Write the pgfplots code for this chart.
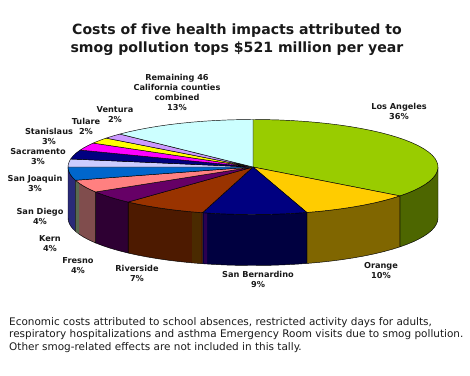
\documentclass[border=0pt]{standalone}
\usepackage{pgfplots}
\pgfplotsset{compat=1.18}
\usepackage{fontspec}
\setmainfont{DejaVu Sans}[Ligatures=CommonOff]
\definecolor{cLA}{HTML}{99CC00}\definecolor{sLA}{HTML}{4D6600}
\definecolor{cOR}{HTML}{FFCC00}\definecolor{sOR}{HTML}{806600}
\definecolor{cSB}{HTML}{000080}\definecolor{sSB}{HTML}{000040}
\definecolor{cRI}{HTML}{993300}\definecolor{sRI}{HTML}{4D1A00}
\definecolor{cFR}{HTML}{660066}\definecolor{sFR}{HTML}{2E0033}
\definecolor{cKE}{HTML}{FF8080}\definecolor{sKE}{HTML}{804D4D}
\definecolor{cSD}{HTML}{0066CC}\definecolor{sSD}{HTML}{2A2A78}
\definecolor{cSJ}{HTML}{CCCCFF}\definecolor{sSJ}{HTML}{666680}
\definecolor{cSA}{HTML}{000080}\definecolor{sSA}{HTML}{000040}
\definecolor{cST}{HTML}{FF00FF}\definecolor{sST}{HTML}{800080}
\definecolor{cTU}{HTML}{FFFF00}\definecolor{sTU}{HTML}{808000}
\definecolor{cVE}{HTML}{CC99FF}\definecolor{sVE}{HTML}{664D80}
\definecolor{cRE}{HTML}{CCFFFF}\definecolor{sRE}{HTML}{668080}
\definecolor{bOL}{HTML}{4A2A00}\definecolor{bPU}{HTML}{2A0050}\definecolor{bGR}{HTML}{5A6A50}
\def\cx{253}\def\cy{167}\def\rx{185}\def\ry{47.5}\def\dep{51}
% append arc (degrees clockwise from 12 o'clock) to \pts
\newcommand\arcpts[3]{%
  \pgfmathtruncatemacro\nsteps{max(2,ceil(abs(#2-#1)/4))}%
  \foreach \i in {0,...,\nsteps}{%
    \pgfmathsetmacro\th{#1+(#2-#1)*\i/\nsteps}%
    \pgfmathsetmacro\px{\cx+\rx*sin(\th)}%
    \pgfmathsetmacro\py{\cy-\ry*cos(\th)+#3}%
    \xdef\pts{\pts (\px,\py)}%
  }}
\gdef\tops{}\gdef\sides{}
\gdef\cum{0}
% share (%) of each slice
\foreach \v/\k in {35.4/LA,9.9/OR,9.1/SB,7.4/RI,4.4/FR,4.3/KE,4.5/SD,2.7/SJ,3.1/SA,2.6/ST,2.0/TU,1.8/VE,12.8/RE}{%
  \pgfmathsetmacro\a{\cum*3.6}%
  \pgfmathsetmacro\newcum{\cum+\v}%
  \pgfmathsetmacro\b{\newcum*3.6}%
  \xdef\cum{\newcum}%
  \xdef\pts{(\cx,\cy)}%
  \arcpts{\a}{\b}{0}%
  \xdef\pts{\pts (\cx,\cy)}%
  \xdef\tops{\unexpanded\expandafter{\tops}\noexpand\addplot[fill=c\k,draw=black,line width=0.45pt,line join=round] coordinates {\pts};}%
  \pgfmathsetmacro\sa{max(\a,90)}%
  \pgfmathsetmacro\sb{min(\b,270)}%
  \pgfmathparse{\sb>\sa?1:0}%
  \pgfmathtruncatemacro\vis{\pgfmathresult}%
  \ifnum\vis=1
    \xdef\pts{}%
    \arcpts{\sa}{\sb}{0}%
    \arcpts{\sb}{\sa}{\dep}%
    \pgfmathsetmacro\px{\cx+\rx*sin(\sa)}%
    \pgfmathsetmacro\py{\cy-\ry*cos(\sa)}%
    \xdef\pts{\pts (\px,\py)}%
    \xdef\sides{\unexpanded\expandafter{\sides}\noexpand\addplot[fill=s\k,draw=black,line width=0.45pt,line join=round] coordinates {\pts};}%
  \fi
}
% narrow colour bands on the rim, as seen in the picture (from/to in degrees)
\foreach \a/\b/\k in {196.4/199.2/bOL,194.4/195.4/bPU,250/253.6/bGR}{%
  \xdef\pts{}%
  \arcpts{\a}{\b}{0.4}%
  \arcpts{\b}{\a}{50.6}%
  \xdef\sides{\unexpanded\expandafter{\sides}\noexpand\addplot[fill=\k,draw=none] coordinates {\pts};}%
}
\newcommand\lab[3]{\node[align=center,text=black!90,inner sep=0pt,font=\bfseries\fontsize{8.2}{10}\selectfont] at (axis cs:#1,#2) {#3};}
\begin{document}
\begin{tikzpicture}
\begin{axis}[
  scale only axis, width=470pt, height=375pt,
  xmin=0, xmax=470, ymin=0, ymax=375, y dir=reverse,
  hide axis, clip=false,
]
\sides
\tops
\path (axis cs:0,0) rectangle (axis cs:470,375);
\node[align=center,text=black!90,inner sep=0pt,font=\bfseries\fontsize{14.1}{18}\selectfont] at (axis cs:237,39.5) {Costs of five health impacts attributed to\\smog pollution tops \$521 million per year};
\lab{177}{92}{Remaining 46\\California counties\\combined\\13\%}
\lab{399}{111}{Los Angeles\\36\%}
\lab{381}{270.5}{Orange\\10\%}
\lab{258}{279}{San Bernardino\\9\%}
\lab{137}{273}{Riverside\\7\%}
\lab{78}{266}{Fresno\\4\%}
\lab{50}{244}{Kern\\4\%}
\lab{40}{216}{San Diego\\4\%}
\lab{35}{183}{San Joaquin\\3\%}
\lab{38}{157}{Sacramento\\3\%}
\lab{49}{136}{Stanislaus\\3\%}
\lab{86}{126}{Tulare\\2\%}
\lab{115}{115}{Ventura\\2\%}
\node[inner sep=0pt,text=black!90,font=\fontsize{10.45}{12.7}\selectfont, anchor=north west, align=left] at (axis cs:9,317) {Economic costs attributed to school absences, restricted activity days for adults,\\respiratory hospitalizations and asthma Emergency Room visits due to smog pollution.\\Other smog-related effects are not included in this tally.};
\end{axis}
\end{tikzpicture}
\end{document}
